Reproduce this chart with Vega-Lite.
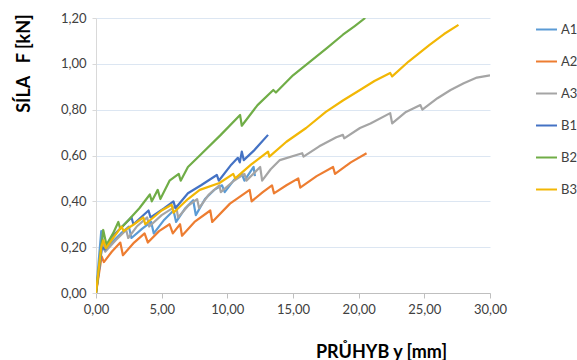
{
  "$schema": "https://vega.github.io/schema/vega-lite/v6.json",
  "width": 394,
  "height": 275,
  "autosize": {"type": "none"},
  "padding": {"left": 96, "top": 18, "right": 87, "bottom": 67},
  "background": "white",
  "config": {
    "font": "Lato",
    "view": {"stroke": null},
    "axis": {"labelFont": "Lato", "labelFontSize": 13, "labelColor": "#404040", "titleFont": "Lato", "titleColor": "#000000", "labelFlush": false}
  },
  "datasets": {
    "d": [
      {"s":"A1","x":0,"y":0},{"s":"A1","x":0.4,"y":0.27},{"s":"A1","x":0.6,"y":0.19},{"s":"A1","x":1.2,"y":0.22},{"s":"A1","x":1.9,"y":0.26},{"s":"A1","x":2.5,"y":0.29},{"s":"A1","x":2.7,"y":0.24},{"s":"A1","x":3.5,"y":0.28},{"s":"A1","x":4.2,"y":0.31},{"s":"A1","x":4.4,"y":0.26},{"s":"A1","x":5.2,"y":0.32},{"s":"A1","x":5.9,"y":0.36},{"s":"A1","x":6.1,"y":0.31},{"s":"A1","x":6.8,"y":0.37},{"s":"A1","x":7.4,"y":0.405},{"s":"A1","x":7.6,"y":0.34},{"s":"A1","x":8.3,"y":0.41},{"s":"A1","x":9.0,"y":0.45},{"s":"A1","x":9.6,"y":0.47},{"s":"A1","x":9.8,"y":0.44},{"s":"A1","x":10.6,"y":0.5},{"s":"A1","x":11.1,"y":0.52},{"s":"A1","x":11.3,"y":0.49},{"s":"A1","x":12.0,"y":0.55},{"s":"A1","x":12.1,"y":0.51},
      {"s":"A2","x":0,"y":0},{"s":"A2","x":0.43,"y":0.16},{"s":"A2","x":0.6,"y":0.135},{"s":"A2","x":1.2,"y":0.18},{"s":"A2","x":1.85,"y":0.22},{"s":"A2","x":2.05,"y":0.165},{"s":"A2","x":2.9,"y":0.22},{"s":"A2","x":3.7,"y":0.26},{"s":"A2","x":3.95,"y":0.22},{"s":"A2","x":4.8,"y":0.27},{"s":"A2","x":5.6,"y":0.3},{"s":"A2","x":5.85,"y":0.26},{"s":"A2","x":6.4,"y":0.3},{"s":"A2","x":6.55,"y":0.25},{"s":"A2","x":7.5,"y":0.31},{"s":"A2","x":8.7,"y":0.36},{"s":"A2","x":8.85,"y":0.31},{"s":"A2","x":10.2,"y":0.39},{"s":"A2","x":11.7,"y":0.45},{"s":"A2","x":11.85,"y":0.4},{"s":"A2","x":12.7,"y":0.44},{"s":"A2","x":13.4,"y":0.47},{"s":"A2","x":13.55,"y":0.435},{"s":"A2","x":14.5,"y":0.47},{"s":"A2","x":15.4,"y":0.5},{"s":"A2","x":15.55,"y":0.46},{"s":"A2","x":16.8,"y":0.51},{"s":"A2","x":18.05,"y":0.55},{"s":"A2","x":18.2,"y":0.52},{"s":"A2","x":19.4,"y":0.57},{"s":"A2","x":20.6,"y":0.61},
      {"s":"A3","x":0,"y":0},{"s":"A3","x":0.5,"y":0.22},{"s":"A3","x":0.7,"y":0.18},{"s":"A3","x":1.5,"y":0.23},{"s":"A3","x":2.3,"y":0.275},{"s":"A3","x":2.45,"y":0.24},{"s":"A3","x":3.1,"y":0.29},{"s":"A3","x":3.9,"y":0.33},{"s":"A3","x":4.05,"y":0.29},{"s":"A3","x":5.0,"y":0.34},{"s":"A3","x":6.1,"y":0.38},{"s":"A3","x":6.25,"y":0.33},{"s":"A3","x":7.0,"y":0.38},{"s":"A3","x":7.7,"y":0.41},{"s":"A3","x":7.85,"y":0.37},{"s":"A3","x":8.6,"y":0.43},{"s":"A3","x":9.4,"y":0.47},{"s":"A3","x":9.5,"y":0.44},{"s":"A3","x":10.5,"y":0.49},{"s":"A3","x":11.3,"y":0.52},{"s":"A3","x":11.45,"y":0.49},{"s":"A3","x":12.5,"y":0.55},{"s":"A3","x":12.65,"y":0.49},{"s":"A3","x":13.3,"y":0.54},{"s":"A3","x":14.0,"y":0.58},{"s":"A3","x":15.7,"y":0.61},{"s":"A3","x":15.8,"y":0.595},{"s":"A3","x":17.0,"y":0.64},{"s":"A3","x":18.3,"y":0.68},{"s":"A3","x":18.8,"y":0.69},{"s":"A3","x":18.9,"y":0.675},{"s":"A3","x":20.1,"y":0.72},{"s":"A3","x":20.9,"y":0.74},{"s":"A3","x":22.4,"y":0.785},{"s":"A3","x":22.55,"y":0.74},{"s":"A3","x":23.6,"y":0.79},{"s":"A3","x":24.7,"y":0.82},{"s":"A3","x":24.85,"y":0.8},{"s":"A3","x":26.0,"y":0.85},{"s":"A3","x":27.0,"y":0.886},{"s":"A3","x":28.0,"y":0.915},{"s":"A3","x":29.0,"y":0.94},{"s":"A3","x":30.0,"y":0.95},
      {"s":"B1","x":0,"y":0},{"s":"B1","x":0.45,"y":0.2},{"s":"B1","x":0.7,"y":0.19},{"s":"B1","x":1.3,"y":0.25},{"s":"B1","x":2.0,"y":0.29},{"s":"B1","x":2.7,"y":0.33},{"s":"B1","x":2.85,"y":0.3},{"s":"B1","x":4.0,"y":0.36},{"s":"B1","x":4.15,"y":0.33},{"s":"B1","x":5.2,"y":0.37},{"s":"B1","x":5.9,"y":0.4},{"s":"B1","x":6.05,"y":0.37},{"s":"B1","x":7.0,"y":0.435},{"s":"B1","x":8.0,"y":0.47},{"s":"B1","x":9.2,"y":0.515},{"s":"B1","x":9.35,"y":0.49},{"s":"B1","x":10.3,"y":0.56},{"s":"B1","x":10.8,"y":0.59},{"s":"B1","x":10.95,"y":0.57},{"s":"B1","x":11.1,"y":0.617},{"s":"B1","x":11.25,"y":0.58},{"s":"B1","x":12.0,"y":0.62},{"s":"B1","x":13.1,"y":0.69},
      {"s":"B2","x":0,"y":0},{"s":"B2","x":0.55,"y":0.275},{"s":"B2","x":0.8,"y":0.21},{"s":"B2","x":1.3,"y":0.26},{"s":"B2","x":1.7,"y":0.31},{"s":"B2","x":1.85,"y":0.28},{"s":"B2","x":2.5,"y":0.32},{"s":"B2","x":3.3,"y":0.37},{"s":"B2","x":4.1,"y":0.43},{"s":"B2","x":4.25,"y":0.4},{"s":"B2","x":4.7,"y":0.45},{"s":"B2","x":4.9,"y":0.41},{"s":"B2","x":5.6,"y":0.49},{"s":"B2","x":6.3,"y":0.52},{"s":"B2","x":6.45,"y":0.49},{"s":"B2","x":7.0,"y":0.55},{"s":"B2","x":7.9,"y":0.6},{"s":"B2","x":9.5,"y":0.69},{"s":"B2","x":10.97,"y":0.777},{"s":"B2","x":11.1,"y":0.73},{"s":"B2","x":12.3,"y":0.82},{"s":"B2","x":13.5,"y":0.886},{"s":"B2","x":13.7,"y":0.875},{"s":"B2","x":15.0,"y":0.95},{"s":"B2","x":16.3,"y":1.01},{"s":"B2","x":17.6,"y":1.07},{"s":"B2","x":18.8,"y":1.127},{"s":"B2","x":19.7,"y":1.165},{"s":"B2","x":20.5,"y":1.2},
      {"s":"B3","x":0,"y":0},{"s":"B3","x":0.4,"y":0.2},{"s":"B3","x":0.56,"y":0.23},{"s":"B3","x":0.75,"y":0.195},{"s":"B3","x":1.3,"y":0.24},{"s":"B3","x":1.95,"y":0.29},{"s":"B3","x":2.1,"y":0.27},{"s":"B3","x":2.9,"y":0.3},{"s":"B3","x":3.6,"y":0.33},{"s":"B3","x":3.75,"y":0.3},{"s":"B3","x":5.0,"y":0.36},{"s":"B3","x":5.76,"y":0.385},{"s":"B3","x":5.9,"y":0.35},{"s":"B3","x":7.0,"y":0.41},{"s":"B3","x":7.9,"y":0.45},{"s":"B3","x":9.4,"y":0.48},{"s":"B3","x":10.45,"y":0.52},{"s":"B3","x":10.6,"y":0.5},{"s":"B3","x":11.8,"y":0.56},{"s":"B3","x":13.1,"y":0.617},{"s":"B3","x":13.2,"y":0.595},{"s":"B3","x":14.5,"y":0.66},{"s":"B3","x":16.0,"y":0.72},{"s":"B3","x":17.5,"y":0.79},{"s":"B3","x":18.8,"y":0.84},{"s":"B3","x":20.1,"y":0.886},{"s":"B3","x":21.2,"y":0.925},{"s":"B3","x":22.4,"y":0.96},{"s":"B3","x":22.55,"y":0.945},{"s":"B3","x":23.8,"y":1.01},{"s":"B3","x":25.4,"y":1.083},{"s":"B3","x":26.5,"y":1.13},{"s":"B3","x":27.6,"y":1.17}
    ]
  },
  "data": {"name": "d"},
  "mark": {"type": "line", "strokeWidth": 2.2, "clip": true, "strokeJoin": "round"},
  "encoding": {
    "x": {
      "field": "x", "type": "quantitative",
      "scale": {"domain": [0, 30], "nice": false},
      "axis": {
        "values": [0, 5, 10, 15, 20, 25, 30],
        "labelExpr": "replace(format(datum.value, '.2f'), '.', ',')",
        "grid": false, "domainColor": "#bfbfbf", "tickColor": "#bfbfbf", "tickSize": 5, "labelPadding": 5,
        "title": "PRŮHYB y [mm]", "titleFontSize": 18, "titleFontWeight": "bold",
        "titleX": 285, "titleY": 59, "titleAlign": "center", "titleBaseline": "middle"
      }
    },
    "y": {
      "field": "y", "type": "quantitative",
      "scale": {"domain": [0, 1.2], "nice": false},
      "axis": {
        "values": [0, 0.2, 0.4, 0.6, 0.8, 1.0, 1.2],
        "labelExpr": "replace(format(datum.value, '.2f'), '.', ',')",
        "grid": true, "gridColor": "#dce6f2", "gridWidth": 1,
        "domainColor": "#d9d9d9", "tickColor": "#d9d9d9", "tickSize": 4, "labelPadding": 6,
        "title": "SÍLA\u00a0\u00a0\u00a0F [kN]", "titleFontSize": 18, "titleFontWeight": "bold",
        "titleAngle": -90, "titleX": -72, "titleY": 45, "titleAlign": "center", "titleBaseline": "middle"
      }
    },
    "color": {
      "field": "s", "type": "nominal",
      "scale": {"domain": ["A1", "A2", "A3", "B1", "B2", "B3"], "range": ["#5B9BD5", "#ED7D31", "#A5A5A5", "#4472C4", "#70AD47", "#F2B705"]},
      "legend": {
        "title": null, "orient": "none", "legendX": 439, "legendY": 0,
        "symbolType": "stroke", "symbolSize": 440, "symbolStrokeWidth": 2,
        "labelFont": "Lato", "labelFontSize": 13, "labelColor": "#404040", "labelOffset": 3,
        "rowPadding": 13, "padding": 0
      }
    }
  }
}
